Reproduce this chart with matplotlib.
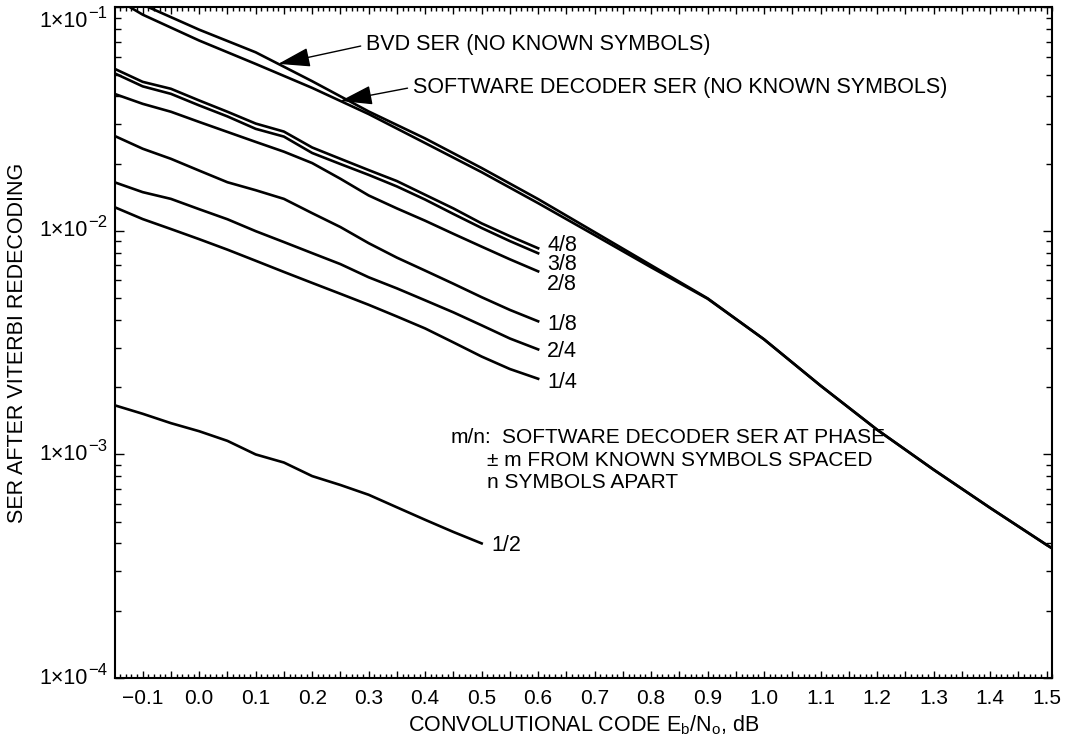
import numpy as np
import matplotlib
matplotlib.use("Agg")
import matplotlib.pyplot as plt
from matplotlib.ticker import MultipleLocator, FuncFormatter, LogLocator, NullFormatter

plt.rcParams["font.family"] = ["Liberation Sans", "DejaVu Sans"]
plt.rcParams["mathtext.fontset"] = "custom"
plt.rcParams["mathtext.rm"] = "Liberation Sans"
plt.rcParams["mathtext.it"] = "Liberation Sans:italic"
plt.rcParams["mathtext.bf"] = "Liberation Sans:bold"

# Eb/No grid (dB) for the known-symbol curves
x_known = [-0.15, -0.10, -0.05, 0.00, 0.05, 0.10, 0.15, 0.20, 0.25, 0.30,
           0.35, 0.40, 0.45, 0.50, 0.55, 0.60]
ser_4_8 = [0.0531, 0.0464, 0.0432, 0.0383, 0.0341, 0.0302, 0.0278, 0.0236,
           0.0210, 0.0187, 0.0167, 0.0145, 0.0126, 0.0108, 0.00947, 0.00836]
ser_3_8 = [0.0507, 0.0443, 0.0410, 0.0364, 0.0325, 0.0286, 0.0264, 0.0223,
           0.0199, 0.0178, 0.0158, 0.0138, 0.0119, 0.0103, 0.0090, 0.00794]
ser_2_8 = [0.0410, 0.0370, 0.0341, 0.0307, 0.0277, 0.0250, 0.0226, 0.0201,
           0.0171, 0.0144, 0.0126, 0.0111, 0.0097, 0.0085, 0.00746, 0.00659]
ser_1_8 = [0.0266, 0.0233, 0.0210, 0.0186, 0.0165, 0.0152, 0.0139, 0.0120,
           0.0104, 0.00881, 0.00759, 0.00664, 0.00580, 0.00505, 0.00443, 0.00394]
ser_2_4 = [0.0165, 0.0149, 0.0139, 0.0125, 0.01127, 0.00997, 0.00891, 0.00795,
           0.00710, 0.00620, 0.00553, 0.00489, 0.00432, 0.00378, 0.00330, 0.00295]
ser_1_4 = [0.01277, 0.01129, 0.01019, 0.00918, 0.00824, 0.00735, 0.00655, 0.00585,
           0.00523, 0.00467, 0.00414, 0.00366, 0.00317, 0.00274, 0.00241, 0.00218]

x_half = [-0.15, -0.10, -0.05, 0.00, 0.05, 0.10, 0.15, 0.20, 0.25, 0.30,
          0.35, 0.40, 0.45, 0.50]
ser_1_2 = [1.66e-3, 1.52e-3, 1.38e-3, 1.27e-3, 1.15e-3, 1.00e-3, 0.92e-3, 0.80e-3,
           0.73e-3, 0.66e-3, 0.58e-3, 0.51e-3, 0.45e-3, 0.40e-3]

# no known symbols
x_full = [-0.15, -0.10, 0.0, 0.1, 0.2, 0.3, 0.4, 0.5, 0.6, 0.7, 0.8, 0.9,
          1.0, 1.1, 1.2, 1.3, 1.4, 1.5, 1.51]
ser_bvd = [0.118, 0.1028, 0.0794, 0.0629, 0.0467, 0.0342, 0.0259, 0.0191, 0.01387,
           0.00987, 0.00702, 0.00499, 3.27e-3, 2.03e-3, 1.29e-3, 8.55e-4, 5.77e-4,
           3.94e-4, 3.80e-4]
ser_sw = [0.110, 0.0927, 0.0710, 0.0558, 0.0436, 0.0333, 0.0247, 0.0183, 0.0133,
          0.00957, 0.00687, 0.00497, 3.27e-3, 2.03e-3, 1.29e-3, 8.55e-4, 5.77e-4,
          3.94e-4, 3.80e-4]

# label name, data, vertical nudge of the label in pixels (positive = down)
known_curves = [("4/8", ser_4_8, -3), ("3/8", ser_3_8, 11), ("2/8", ser_2_8, 13),
                ("1/8", ser_1_8, 3), ("2/4", ser_2_4, 2), ("1/4", ser_1_4, 4)]

decades = [-4, -3, -2, -1]

fig = plt.figure(figsize=(10.65, 7.44), dpi=100)
ax = fig.add_axes([0.108, 0.0887, 0.880, 0.9015])

lw = 1.9
fs = 15.5
ax.plot(x_full, ser_bvd, color="black", lw=lw)
ax.plot(x_full, ser_sw, color="black", lw=lw)
for name, ser, dy in known_curves:
    ax.plot(x_known, ser, color="black", lw=lw)
    ax.annotate(name, xy=(x_known[-1], ser[-1]), xytext=(9, -dy),
                textcoords="offset pixels", ha="left", va="center", fontsize=fs)
ax.plot(x_half, ser_1_2, color="black", lw=lw)
ax.annotate("1/2", xy=(x_half[-1], ser_1_2[-1]), xytext=(10, -2),
            textcoords="offset pixels", ha="left", va="center", fontsize=fs)

ax.set_yscale("log")
ax.set_xlim(-0.149, 1.51)
ax.set_ylim(1e-4, 1e-1)

ax.xaxis.set_major_locator(MultipleLocator(0.05))
ax.xaxis.set_minor_locator(MultipleLocator(0.01))


def xfmt(v, pos):
    if abs(round(v * 10) - v * 10) > 1e-6:
        return ""
    return f"{v:.1f}".replace("-", "\u2212")


ax.xaxis.set_major_formatter(FuncFormatter(xfmt))
ax.yaxis.set_major_locator(LogLocator(base=10, numticks=10))
ax.yaxis.set_minor_locator(LogLocator(base=10, subs=np.arange(2, 10), numticks=10))
ax.yaxis.set_minor_formatter(NullFormatter())
ax.yaxis.set_major_formatter(NullFormatter())

# y tick labels drawn by hand so the exponent can be nearly full size
for d in decades:
    shift = -14 if d == decades[-1] else 0
    ax.annotate("1\u00d710", xy=(0, 10.0 ** d), xycoords=("axes fraction", "data"),
                xytext=(-27, shift), textcoords="offset pixels",
                ha="right", va="center", fontsize=fs)
    ax.annotate("\u2212%d" % abs(d), xy=(0, 10.0 ** d), xycoords=("axes fraction", "data"),
                xytext=(-27, shift + 8), textcoords="offset pixels",
                ha="left", va="center", fontsize=12)

ax.tick_params(which="both", direction="in", top=True, right=True,
               labelsize=15, width=1.0, colors="black")
ax.tick_params(axis="x", which="major", length=5, pad=8)
ax.tick_params(axis="x", which="minor", length=3)
ax.tick_params(axis="y", which="major", length=6.5, pad=4)
ax.tick_params(axis="y", which="minor", length=4)
for sp in ax.spines.values():
    sp.set_linewidth(1.5)

ax.set_xlabel(r"CONVOLUTIONAL CODE E$_\mathregular{b}$/N$_\mathregular{o}$, dB",
              fontsize=fs, labelpad=4)
ax.set_ylabel("SER AFTER VITERBI REDECODING", fontsize=fs)
ax.yaxis.set_label_coords(-0.093, 0.5)

arrow = dict(arrowstyle="-|>,head_length=1.0,head_width=0.3", color="black",
             lw=1.0, mutation_scale=20, shrinkA=2, shrinkB=0, relpos=(0, 0.5))
x_bvd_tip = 0.14
ax.annotate("BVD SER (NO KNOWN SYMBOLS)",
            xy=(x_bvd_tip, 10 ** np.interp(x_bvd_tip, x_full, np.log10(ser_bvd))),
            xytext=(0.268, 0.944), textcoords="axes fraction",
            ha="left", va="center", fontsize=fs, arrowprops=arrow)
x_sw_tip = 0.25
ax.annotate("SOFTWARE DECODER SER (NO KNOWN SYMBOLS)",
            xy=(x_sw_tip, 10 ** np.interp(x_sw_tip, x_full, np.log10(ser_sw))),
            xytext=(0.318, 0.881), textcoords="axes fraction",
            ha="left", va="center", fontsize=fs, arrowprops=arrow)

nfs = 15
ax.text(0.3575, 0.358, "m/n:", transform=ax.transAxes, ha="left", va="center", fontsize=nfs)
ax.text(0.413, 0.358, "SOFTWARE DECODER SER AT PHASE", transform=ax.transAxes,
        ha="left", va="center", fontsize=nfs)
note_lines = ["\u00b1 m FROM KNOWN SYMBOLS SPACED", "n SYMBOLS APART"]
for i, line in enumerate(note_lines):
    ax.text(0.397, 0.325 - 0.0328 * i, line, transform=ax.transAxes,
            ha="left", va="center", fontsize=nfs)

fig.savefig("out.png", dpi=100)
